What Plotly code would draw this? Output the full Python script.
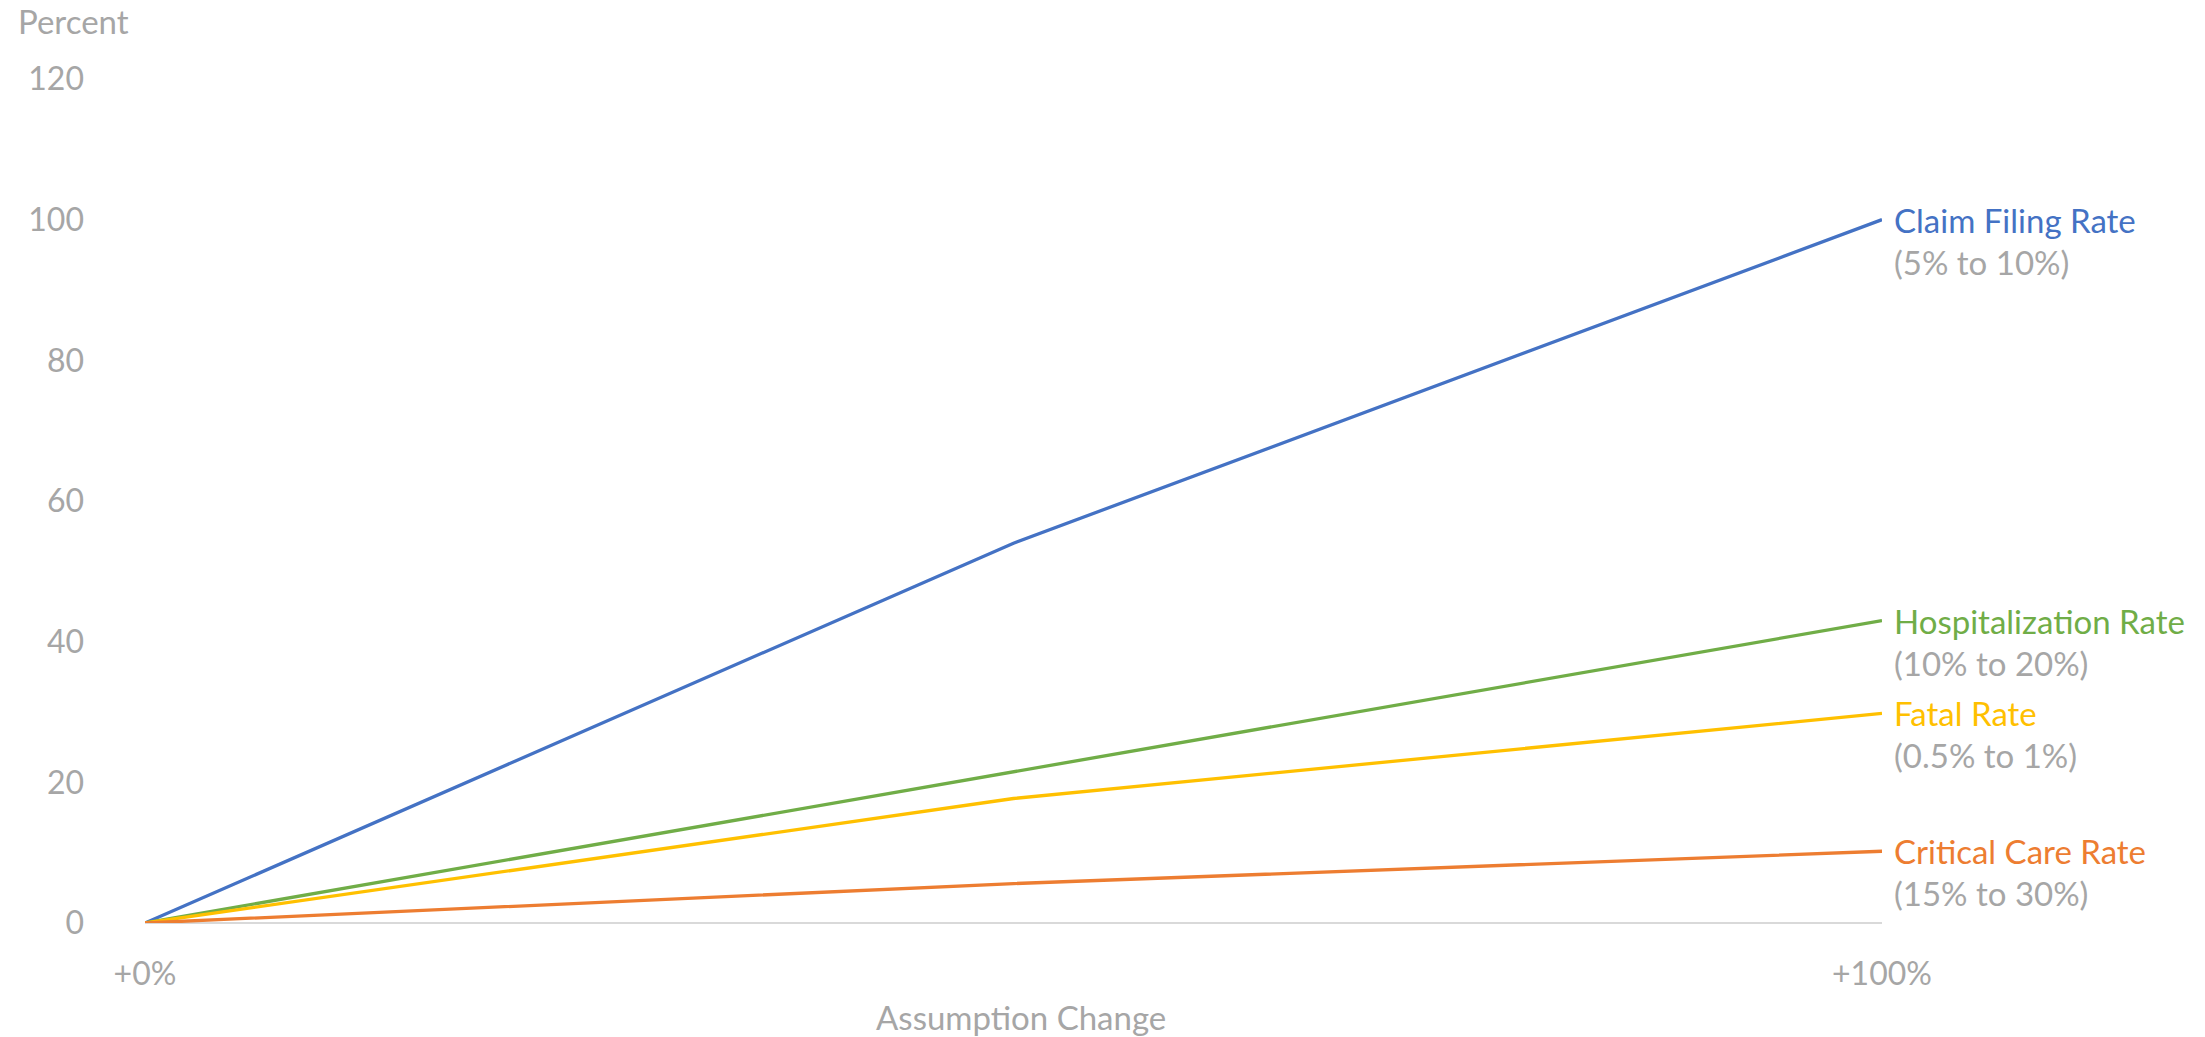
import plotly.graph_objects as go

x_vals = [0, 50, 100]
x_tick_vals = [0, 100]
x_tick_text = ["+0%", "+100%"]
y_tick_vals = [0, 20, 40, 60, 80, 100, 120]

series_names = ["Claim Filing Rate", "Hospitalization Rate", "Fatal Rate", "Critical Care Rate"]
series_ranges = ["(5% to 10%)", "(10% to 20%)", "(0.5% to 1%)", "(15% to 30%)"]
claim_filing = [0, 54.0, 100.0]
hospitalization = [0, 21.5, 43.0]
fatal = [0, 17.7, 29.8]
critical_care = [0, 5.6, 10.2]
series_values = [claim_filing, hospitalization, fatal, critical_care]
series_colors = ["#4472C4", "#70AD47", "#FFC000", "#ED7D31"]

FONT = "Lato"
GRAY = "#A6A6A6"
FS = 33
TFS = 32

# plot-area pixel geometry (for paper-coordinate annotations)
L, R, T, B = 145, 1882, 78.6, 922.6

fig = go.Figure()
for name, vals, col in zip(series_names, series_values, series_colors):
    fig.add_trace(go.Scatter(x=x_vals, y=vals, mode="lines", name=name,
                             line=dict(color=col, width=3.3), showlegend=False,
                             hoverinfo="skip"))

for name, rng, vals, col in zip(series_names, series_ranges, series_values, series_colors):
    fig.add_annotation(x=x_vals[-1], y=vals[-1], text=name, showarrow=False,
                       xanchor="left", yanchor="middle", xshift=10,
                       font=dict(family=FONT, size=FS, color=col))
    fig.add_annotation(x=x_vals[-1], y=vals[-1], text=rng, showarrow=False,
                       xanchor="left", yanchor="middle", xshift=10, yshift=-42,
                       font=dict(family=FONT, size=FS, color=GRAY))

fig.add_annotation(xref="paper", yref="paper",
                   x=((620 + 832) / 2 * 1.4062 - L) / (R - L),
                   y=(B - 1017) / (B - T), text="Assumption Change",
                   showarrow=False, font=dict(family=FONT, size=FS, color=GRAY),
                   xanchor="center", yanchor="middle")
fig.add_annotation(xref="paper", yref="paper",
                   x=(16 - L) / (R - L), y=(B - 21) / (B - T), text="Percent",
                   showarrow=False, font=dict(family=FONT, size=FS, color=GRAY),
                   xanchor="left", yanchor="middle")

fig.update_layout(
    width=2205, height=1037,
    margin=dict(l=L, r=2205 - R, t=T, b=1037 - B),
    paper_bgcolor="white", plot_bgcolor="white",
    font=dict(family=FONT, size=FS, color=GRAY),
)

fig.update_xaxes(range=[0, 100], tickvals=x_tick_vals, ticktext=x_tick_text,
                 showgrid=False, zeroline=False, showline=False, ticks="",
                 ticklabelstandoff=29, tickfont=dict(family=FONT, size=TFS, color=GRAY))
fig.update_yaxes(range=[0, 120], tickvals=y_tick_vals, showgrid=False,
                 zeroline=True, zerolinecolor="#D9D9D9", zerolinewidth=2,
                 showline=False, ticks="", ticklabelstandoff=60,
                 tickfont=dict(family=FONT, size=TFS, color=GRAY))

fig.write_html("out.html")
